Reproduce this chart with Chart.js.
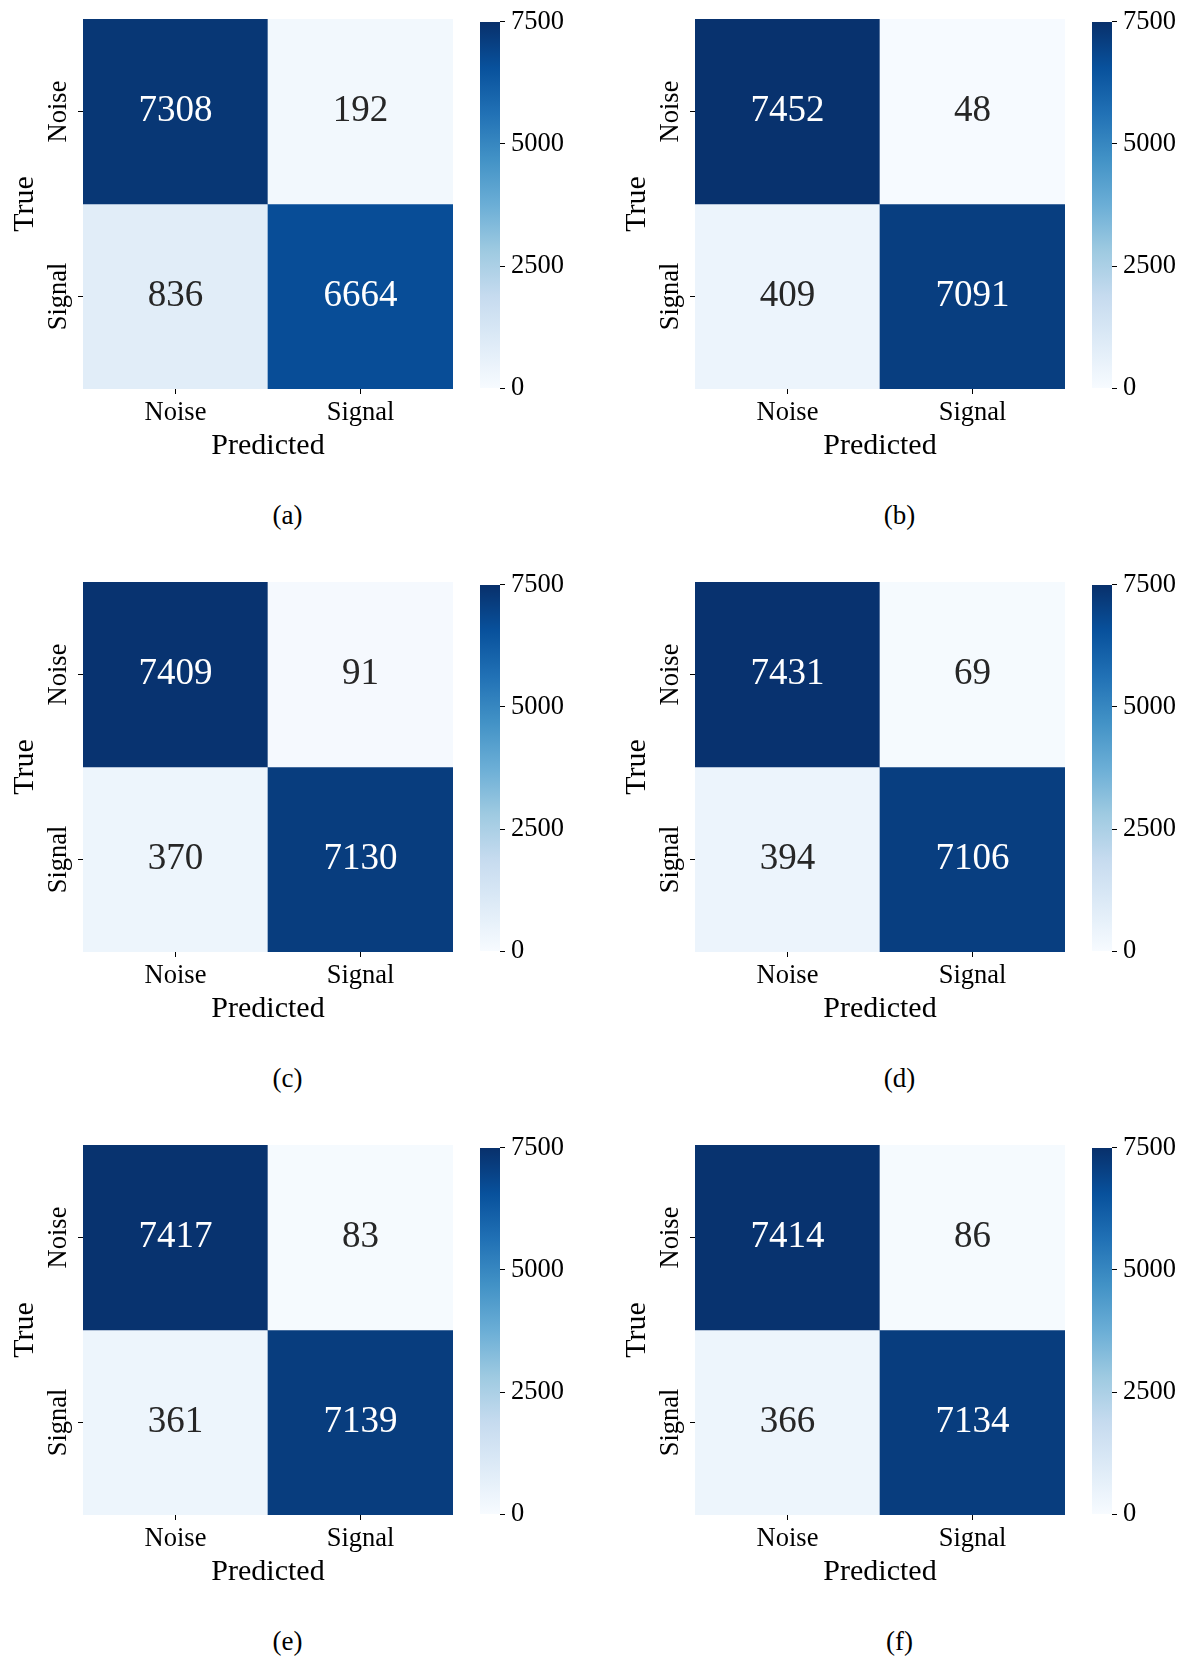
<!DOCTYPE html>
<html><head><meta charset="utf-8">
<script src="https://cdn.jsdelivr.net/npm/chart.js@4.4.1/dist/chart.umd.min.js"></script>
<style>
html,body{margin:0;padding:0;background:#fff;}
body{width:1188px;height:1657px;position:relative;overflow:hidden;}
.panel{position:absolute;width:594px;height:560px;}
.hm{position:absolute;left:0;top:0;}
.cb{position:absolute;left:470px;top:0;}
.cap{position:absolute;font-family:'Liberation Serif',serif;font-size:27px;color:#000;transform:translate(-50%,-50%);white-space:nowrap;line-height:1;}
</style></head><body>
<script>
// ---- data ----
const panelNames = ['(a)','(b)','(c)','(d)','(e)','(f)'];
const predLabels = ['Noise','Signal'];
const trueLabels = ['Noise','Signal'];
const matrixA = [[7308, 192], [836, 6664]];
const matrixB = [[7452, 48], [409, 7091]];
const matrixC = [[7409, 91], [370, 7130]];
const matrixD = [[7431, 69], [394, 7106]];
const matrixE = [[7417, 83], [361, 7139]];
const matrixF = [[7414, 86], [366, 7134]];
const colorbarTicks = [0, 2500, 5000, 7500];
const vmin = 0, vmax = 7500;
const axisTitleX = 'Predicted';
const axisTitleY = 'True';

const matrices = [matrixA, matrixB, matrixC, matrixD, matrixE, matrixF];
const bluesStops = ['#f7fbff','#deebf7','#c6dbef','#9ecae1','#6baed6','#4292c6','#2171b5','#08519c','#08306b'];
const FONT = "'Liberation Serif','Times New Roman',serif";

function hexToRgb(h){return [parseInt(h.slice(1,3),16),parseInt(h.slice(3,5),16),parseInt(h.slice(5,7),16)];}
const bluesRgb = bluesStops.map(hexToRgb);
function cmap(t){
  t = Math.max(0, Math.min(1, t));
  const n = bluesRgb.length - 1;
  const p = t * n, i = Math.min(Math.floor(p), n - 1), f = p - i;
  const a = bluesRgb[i], b = bluesRgb[i+1];
  return [0,1,2].map(k => Math.round(a[k] + (b[k]-a[k]) * f));
}
function rgbStr(c){return 'rgb(' + c.join(',') + ')';}
function cellRgb(v){return cmap((v - vmin) / (vmax - vmin));}
function lum(c){
  const l = c.map(x => { x /= 255; return x <= 0.03928 ? x/12.92 : Math.pow((x+0.055)/1.055, 2.4); });
  return 0.2126*l[0] + 0.7152*l[1] + 0.0722*l[2];
}

function annotPlugin(matrix){
  return {
    id: 'annot',
    afterDatasetsDraw(chart){
      const {ctx, scales:{x, y}} = chart;
      ctx.save();
      ctx.font = '37px ' + FONT;
      ctx.textAlign = 'center';
      ctx.textBaseline = 'middle';
      matrix.forEach((row, r) => {
        row.forEach((v, c) => {
          const col = cellRgb(v);
          ctx.fillStyle = lum(col) > 0.408 ? '#262626' : '#ffffff';
          ctx.fillText(String(v), x.getPixelForValue(c), y.getPixelForValue(r + 0.5));
        });
      });
      ctx.restore();
    }
  };
}

function makeHeatmap(canvas, matrix){
  const datasets = trueLabels.map((lab, r) => ({
    label: lab,
    data: predLabels.map(() => [r, r + 1]),
    backgroundColor: matrix[r].map(v => rgbStr(cellRgb(v))),
    borderWidth: 0,
    borderSkipped: false,
    barPercentage: 1,
    categoryPercentage: 1,
    grouped: false
  }));
  return new Chart(canvas, {
    type: 'bar',
    data: {labels: predLabels, datasets},
    options: {
      responsive: false, animation: false, devicePixelRatio: 1,
      layout: {padding: {left: 0, top: 19, right: 7, bottom: 0}},
      plugins: {legend: {display: false}, tooltip: {enabled: false}},
      scales: {
        x: {
          type: 'category', offset: true,
          grid: {offset: false, drawOnChartArea: false, drawTicks: true, tickLength: 5, color: '#000', lineWidth: 1},
          border: {display: false},
          ticks: {color: '#000', font: {family: FONT, size: 26.5}, padding: 3, maxRotation: 0, minRotation: 0, autoSkip: false},
          title: {display: true, text: axisTitleX, color: '#000', font: {family: FONT, size: 30}, padding: {top: 0, bottom: 6}},
          afterFit(s){ s.height = 81; }
        },
        y: {
          type: 'linear', min: 0, max: 2, reverse: true,
          afterBuildTicks(s){ s.ticks = trueLabels.map((_, i) => ({value: i + 0.5})); },
          ticks: {callback: (v, i) => trueLabels[i], minRotation: 90, maxRotation: 90, autoSkip: false,
                  crossAlign: 'center', padding: -15, color: '#000', font: {family: FONT, size: 26.5}},
          grid: {drawOnChartArea: false, drawTicks: true, tickLength: 5, color: '#000', lineWidth: 1},
          border: {display: false},
          title: {display: true, text: axisTitleY, color: '#000', font: {family: FONT, size: 30}, padding: {top: 7, bottom: 0}},
          afterFit(s){ s.width = 83; }
        }
      }
    },
    plugins: [annotPlugin(matrix)]
  });
}

function makeColorbar(canvas){
  return new Chart(canvas, {
    type: 'bar',
    data: {labels: [''], datasets: [{
      data: [[vmin, vmax]],
      backgroundColor: (ctx) => {
        const c = ctx.chart, ys = c.scales.y;
        if (!ys) return bluesStops[4];
        const y0 = ys.getPixelForValue(vmin), y1 = ys.getPixelForValue(vmax);
        if (!Number.isFinite(y0) || !Number.isFinite(y1) || y0 === y1) return bluesStops[4];
        const g = c.ctx.createLinearGradient(0, y0, 0, y1);
        bluesStops.forEach((col, i) => g.addColorStop(i / (bluesStops.length - 1), col));
        return g;
      },
      borderWidth: 0, borderSkipped: false, barPercentage: 1, categoryPercentage: 1
    }]},
    options: {
      responsive: false, animation: false, devicePixelRatio: 1,
      layout: {padding: {left: 10, top: 19, right: 0, bottom: 21}},
      plugins: {legend: {display: false}, tooltip: {enabled: false}},
      scales: {
        x: {display: false},
        y: {
          position: 'right', min: vmin, max: vmax,
          afterBuildTicks(s){ s.ticks = colorbarTicks.map(v => ({value: v})); },
          ticks: {callback: (v) => String(v), color: '#000', font: {family: FONT, size: 26.5}, padding: 6, autoSkip: false},
          grid: {drawOnChartArea: false, drawTicks: true, tickLength: 5, color: '#000', lineWidth: 1},
          border: {display: false},
          afterFit(s){ s.width = 80; }
        }
      }
    }
  });
}

const colX = [0, 612];
const rowY = [0, 563, 1126];
matrices.forEach((m, idx) => {
  const r = Math.floor(idx / 2), c = idx % 2;
  const panel = document.createElement('div');
  panel.className = 'panel';
  panel.style.left = colX[c] + 'px';
  panel.style.top = rowY[r] + 'px';
  const hm = document.createElement('canvas');
  hm.className = 'hm'; hm.width = 460; hm.height = 470;
  hm.style.width = '460px'; hm.style.height = '470px';
  const cb = document.createElement('canvas');
  cb.className = 'cb'; cb.width = 110; cb.height = 410;
  cb.style.width = '110px'; cb.style.height = '410px';
  const cap = document.createElement('div');
  cap.className = 'cap';
  cap.style.left = '287.5px'; cap.style.top = '515px';
  cap.textContent = panelNames[idx];
  panel.appendChild(hm); panel.appendChild(cb); panel.appendChild(cap);
  document.body.appendChild(panel);
  makeHeatmap(hm, m);
  makeColorbar(cb);
});
</script>
</body></html>
